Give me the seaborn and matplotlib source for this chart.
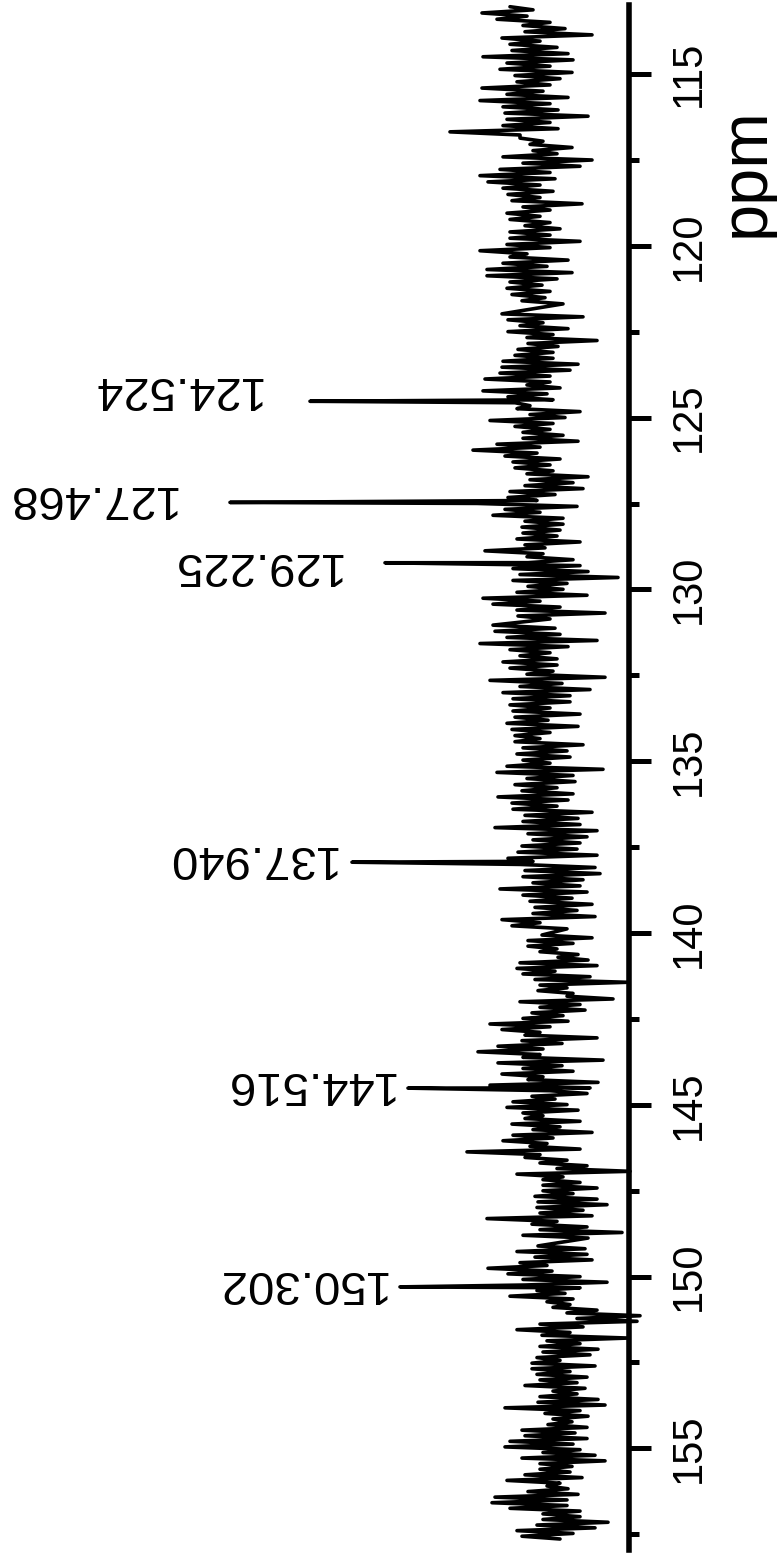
import numpy as np
import pandas as pd
import matplotlib
matplotlib.use("Agg")
import matplotlib.pyplot as plt
import seaborn as sns

# --- spectrum data (chemical shift in ppm, intensity in arbitrary units) ---
# baseline noise, recorded as five consecutive stretches of the spectrum
noise_a = [3.5, 1.2, 6.3, 1.8, 4.8, -0.5, 2.2, -2.0, 2.0, -4.7,
           4.3, 0.5, 3.5, -1.2, 3.3, -2.3, 6.2, -2.8, 3.8, -0.5,
           4.5, -2.7, 3.0, -1.5, 2.8, -0.5, 6.3, 0.2, 3.8, -2.3,
           6.5, -0.5, 4.2, -1.3, 4.0, -4.3, 3.8, -0.5, 4.2, -1.3,
           9.5, 2.5, 2.5, 0.2, 1.5, -2.7, 1.2, -1.2, 4.2, -4.7,
           2.2, -3.5, 4.5, -0.5, 6.5, -1.0, 5.7, 0.5, 4.2, -0.8,
           3.7, 0.5, 3.3, -3.7, 2.2, -0.5, 3.8, 0.5, 3.5, -0.5,
           2.0, -1.5, 3.5, -0.5, 3.5, -3.5, 3.8, -0.5, 6.5, 1.8,
           3.5, -2.3, 4.2, -0.2, 5.8, -2.7, 5.8, -1.2, 3.5, 0.3,
           3.8, -0.5, 3.3, 0.0, 2.3, -1.8]
noise_b = [4.3, -3.8, 3.7, 0.2, 2.5, -2.3, 3.7, -0.8, 1.8, -5.2,
           1.7, -1.3, 2.7, -0.8, 3.0, -0.8, 4.2, -3.3, 4.3, -2.5,
           4.5, -0.5, 6.0, -0.5, 1.8, -1.5, 6.2, -0.2, 3.7, -0.8,
           3.0, 1.5, 2.8, -3.5, 1.5, -2.0, 5.5, -0.8, 3.0, -0.5,
           2.2, -1.8, 2.2, -3.3, 4.8, 0.5, 7.2, 0.8, 4.0, -1.5,
           3.2, -0.5, 3.0, -0.8, 1.8, -4.3, 1.5, -2.8, 2.0, -3.8,
           3.5, -1.0, 3.7, 0.8, 6.8, -3.2, 4.0, 0.5, 5.2, -1.8,
           2.0, -1.8, 2.3, -1.5, 2.2, -1.2, 2.8, -3.5, 2.0, 0.0,
           6.0, 0.2, 1.8, -2.8, 1.7, -3.5, 3.2, -4.3, 2.5, -7.3,
           3.2, -2.2, 1.7, -1.8, 2.8, -4.2, 6.2, 0.5, 5.2, -1.5,
           2.8, -6.0, 2.7, -0.5]
noise_c = [5.2, -1.0, 5.0, -1.5, 3.8, -5.2, 6.5, -2.3, 3.5, -0.5,
           2.5, -1.2, 4.2, -1.2, 3.5, -0.8, 1.8, -6.0, 5.5, -1.7,
           2.5, -4.5, 4.2, -2.5, 3.2, -2.5, 3.5, -0.5, 3.2, -3.5,
           3.0, -0.3, 3.8, -3.3, 3.3, -0.5, 3.0, 0.5, 3.0, -3.8,
           2.2, -2.2, 2.8, -2.5, 2.2, -0.5, 3.8, -5.8, 4.8, -2.8,
           1.8, -3.0, 3.0, -1.2, 2.3, -2.8, 4.7, -2.3, 3.3, -1.2,
           3.2, -4.7, 2.0, -3.3, 2.2, -3.5, 5.0, -5.2, 1.7, -4.2,
           1.2, -3.5, 2.3, -3.2, 2.7, -5.2, 3.7, 1.2, 2.5, -5.0,
           2.0, -5.5, 2.2, -3.8, 1.2, -3.5, 4.5, -4.2, 2.2, -2.7,
           1.5, -4.7, 1.0, -3.2, 1.2, -5.0, 4.3, 0.5, 3.3, -2.2]
noise_d = [0.3, -4.7, 1.7, -2.8, 1.7, -1.2, 0.5, -3.3, -1.3, -4.3,
           2.5, -5.2, 2.8, -1.0, 2.2, -4.5, 1.0, -8.2, 0.5, -2.2,
           0.7, -2.8, -2.2, -6.8, 2.5, -3.5, 0.5, -4.0, 1.3, -1.8,
           2.2, -2.3, 5.5, -0.5, 4.3, 0.5, 2.0, -5.2, 2.3, -1.7,
           4.7, 0.2, 6.7, 0.5, 2.2, -5.8, 4.7, -1.7, 2.2, -2.8,
           4.3, 0.2, 1.7, -5.3, 5.5, -4.5, -0.5, -4.2, 1.3, -1.0,
           3.2, -2.2, 3.8, -3.3, 2.2, 0.2, 2.0, -3.5, 3.3, -1.5,
           1.2, -4.7, 3.2, -0.8, 4.2, -0.2, 1.5, -3.5, 7.8, 0.5,
           2.0, -2.2, 0.5, -4.2, -1.2, -8.5, 2.8, -1.8, 0.2, -3.5,
           0.2, -5.2, 0.2, -2.8, 1.0, -5.2, 0.7, -6.2, 0.8, -3.8,
           0.5, -4.7, 5.8, -1.2, 1.3, -4.2, 0.5, -7.7, 2.2, -4.3]
noise_e = [0.7, -4.0, 2.8, -4.2, 1.0, -4.7, 2.5, -0.2, 5.7, -0.7,
           3.7, -3.5, 2.2, -6.2, 2.0, -3.5, 0.8, -2.0, 3.5, -2.8,
           -0.2, -2.5, -0.8, -5.2, -2.2, -9.5, -3.2, -9.2, 0.5, -3.8,
           2.8, -2.5, 0.3, -8.3, -0.2, -3.5, 0.5, -5.3, 0.2, -4.5,
           0.8, -1.5, 1.3, -5.0, 1.3, -2.5, 0.8, -4.2, 0.5, -3.2,
           2.0, -4.0, -0.8, -3.2, 0.5, -5.3, 0.7, -6.0, 4.0, -3.5,
           0.0, -4.3, -0.8, -2.7, -0.3, -4.2, 2.3, -3.0, 2.0, -4.2,
           3.5, -2.8, 4.0, -3.5, 0.2, -5.0, 2.3, -6.0, 0.5, -2.7,
           0.5, -2.5, 2.0, -3.7, 3.8, -1.5, -0.2, -2.3, 1.7, -3.3,
           5.0, -2.2, 5.3, -2.2, 3.5, -3.5, 0.2, -3.5, 0.2, -6.3,
           0.8, -5.0, 2.8, -2.8, 2.3, -1.5]
# ppm span covered by each stretch of noise
noise_spans = [(113.04, 121.69), (121.98, 130.86), (131.04, 139.88),
               (140.06, 148.88), (149.11, 157.64)]

# picked peaks
peak_ppm = [124.524, 127.468, 129.225, 137.940, 144.516, 150.302]
peak_height = [23.5, 31.5, 16.0, 19.3, 13.7, 14.5]
peak_labels = ["124.524", "127.468", "129.225", "137.940", "144.516", "150.302"]

# axis ticks
major_ticks = [115, 120, 125, 130, 135, 140, 145, 150, 155]
minor_ticks = [117.5, 122.5, 127.5, 132.5, 137.5, 142.5, 147.5, 152.5, 157.5]
axis_label = "ppm"

# --- assemble the trace ---
frames = []
for vals, (lo, hi) in zip([noise_a, noise_b, noise_c, noise_d, noise_e], noise_spans):
    frames.append(pd.DataFrame({"ppm": np.linspace(lo, hi, len(vals)),
                                "intensity": vals}))
frames.append(pd.DataFrame({"ppm": peak_ppm, "intensity": peak_height}))
spec = pd.concat(frames, ignore_index=True).sort_values("ppm").reset_index(drop=True)

# --- figure ---
sns.set_theme(style="white")
plt.rcParams["font.family"] = ["Liberation Sans", "DejaVu Sans"]

W, H = 777, 1554
fig = plt.figure(figsize=(W / 100, H / 100), dpi=100)
fig.patch.set_facecolor("white")
ax = fig.add_axes([0.0, 4 / H, 629 / W, 1545 / H])
ax.set_facecolor("white")

sns.lineplot(data=spec, x="intensity", y="ppm", orient="y", sort=True,
             estimator=None, color="black", linewidth=2.6, ax=ax)
for ln in ax.get_lines():
    ln.set_clip_on(False)
    ln.set_solid_joinstyle("round")
    ln.set_solid_capstyle("round")

# spectrum is drawn rotated: ppm runs down the page, intensity grows leftwards
ax.set_ylim(157.96, 112.99)
ax.set_xlim(54.5, -8.4)

for side in ["left", "top", "bottom"]:
    ax.spines[side].set_visible(False)
ax.spines["right"].set_linewidth(4.0)
ax.spines["right"].set_color("black")
ax.spines["right"].set_zorder(5)

ax.set_xticks([])
ax.set_xlabel("")
ax.set_ylabel("")
ax.set_yticks(major_ticks)
ax.set_yticklabels([str(t) for t in major_ticks])
ax.set_yticks(minor_ticks, minor=True)
ax.yaxis.set_ticks_position("right")
ax.tick_params(axis="y", which="major", direction="out", length=16, width=3.6,
               color="black", pad=13, labelsize=30, labelrotation=90,
               labelcolor="black", right=True, left=False,
               labelright=True, labelleft=False)
ax.tick_params(axis="y", which="minor", direction="out", length=7, width=3.6,
               color="black", right=True, left=False)
for lbl in ax.get_yticklabels():
    lbl.set_verticalalignment("center")
    lbl.set_horizontalalignment("left")

ax.annotate(axis_label, xy=(1.0, 117.85), xycoords=("axes fraction", "data"),
            xytext=(118, 0), textcoords="offset pixels", rotation=90,
            ha="center", va="center", fontsize=48, color="black")

# peak labels, printed upside down beside each peak tip
label_gap = [50, 55, 45, 17, 15, 15]
label_dy = [12, 4, -2, 4, 4, 4]
for p, h, txt, g, d in zip(peak_ppm, peak_height, peak_labels, label_gap, label_dy):
    ax.annotate(txt, xy=(h, p), xycoords="data", xytext=(-g, d),
                textcoords="offset pixels", rotation=180, ha="right",
                va="center", fontsize=34, color="black")

fig.savefig("out.png", dpi=100, facecolor="white")
